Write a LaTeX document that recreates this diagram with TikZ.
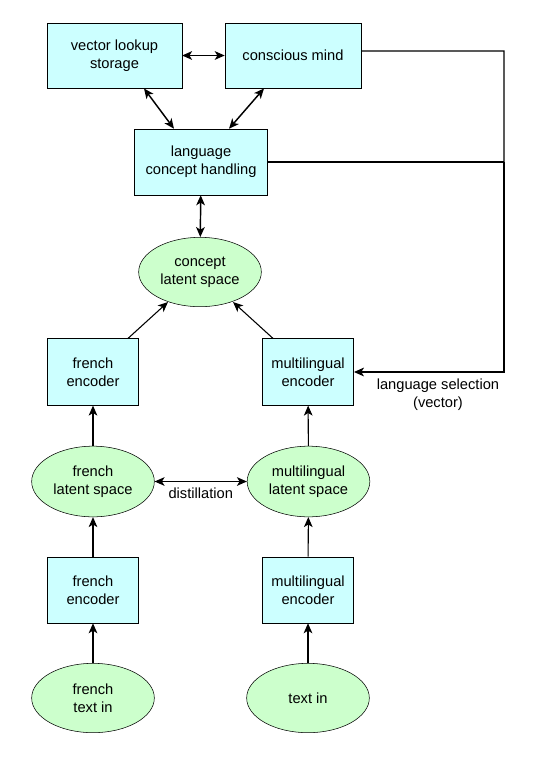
\documentclass[tikz,border=0pt]{standalone}
\usepackage{fontspec}
\setmainfont{Liberation Sans}
\usetikzlibrary{arrows.meta,shapes.geometric}
\definecolor{boxcyan}{HTML}{CCFFFF}
\definecolor{ovalgreen}{HTML}{CCFFCC}
\begin{document}
\begin{tikzpicture}[x=0.75pt, y=-0.75pt,
    font=\fontsize{11}{13.3}\selectfont,
    box/.style={draw, rectangle, fill=boxcyan, align=center, inner sep=0pt},
    oval/.style={draw, ellipse, fill=ovalgreen, align=center, inner sep=0pt, minimum width=92pt, minimum height=52pt},
    link/.style={-{Stealth[length=7.5pt, width=6.5pt, inset=2pt]}, line width=0.8pt},
    both/.style={{Stealth[length=7.5pt, width=6.5pt, inset=2pt]}-{Stealth[length=7.5pt, width=6.5pt, inset=2pt]}, line width=1.1pt}]
      \useasboundingbox (0,0) rectangle (535,765);
      \fill[white] (0,0) rectangle (535,765);
      % top row
      \node[box, minimum width=101pt, minimum height=49pt] (lookup) at (114.5,55.5) {vector lookup\\storage};
      \node[box, minimum width=102pt, minimum height=49pt] (mind) at (293,55.5) {conscious mind};
      \node[box, minimum width=100pt, minimum height=49.5pt] (handling) at (201,162) {language\\concept handling};
      \node[oval] (concept) at (200,272) {concept\\latent space};
      % encoders
      \node[box, minimum width=68.5pt, minimum height=50pt] (frenc) at (93,372) {french\\encoder};
      \node[box, minimum width=68.5pt, minimum height=50pt] (mlenc) at (308,372) {multilingual\\encoder};
      \node[oval, minimum height=53pt] (frlat) at (93,481.5) {french\\latent space};
      \node[oval, minimum height=53pt] (mllat) at (308.5,481.5) {multilingual\\latent space};
      \node[box, minimum width=68.5pt, minimum height=49.5pt] (frenc2) at (93,590) {french\\encoder};
      \node[box, minimum width=68.5pt, minimum height=49.5pt] (mlenc2) at (308,590) {multilingual\\encoder};
      \node[oval] (frin) at (93,698) {french\\text in};
      \node[oval] (mlin) at (308,698) {text in};
      % arrows
      \draw[both] (lookup) -- (mind);
      \draw[both] (lookup.south -| 144,0) -- (handling.north -| 174,0);
      \draw[both] (mind.south -| 264,0) -- (handling.north -| 229,0);
      \draw[both] (handling) -- (concept);
      \draw[link] (frenc.north -| 128,0) -- (168,302);
      \draw[link] (mlenc.north -| 273,0) -- (233,302);
      \draw[link] (frenc2) -- (frlat);
      \draw[link] (frlat) -- (frenc);
      \draw[link] (frin) -- (frenc2);
      \draw[link] (mlin) -- (mlenc2);
      \draw[link] (mlenc2) -- (mllat);
      \draw[link] (mllat) -- (mlenc);
      \draw[both, line width=0.9pt] (frlat) -- node[below=1pt] {distillation} (mllat);
      % language selection
      \coordinate (top) at (504,51);
      \coordinate (mid) at (504,162);
      \coordinate (sel) at (504,372);
      \draw[line width=0.8pt] ([yshift=3.4pt]mind.east) -- (top) -- (mid);
      \draw[line width=0.8pt] (handling.east) -- (mid);
      \draw[link, line width=1.6pt] (mid) -- (sel) -- node[below=1pt, pos=0.44, align=center] {language selection\\(vector)} (mlenc.east);
\end{tikzpicture}
\end{document}
